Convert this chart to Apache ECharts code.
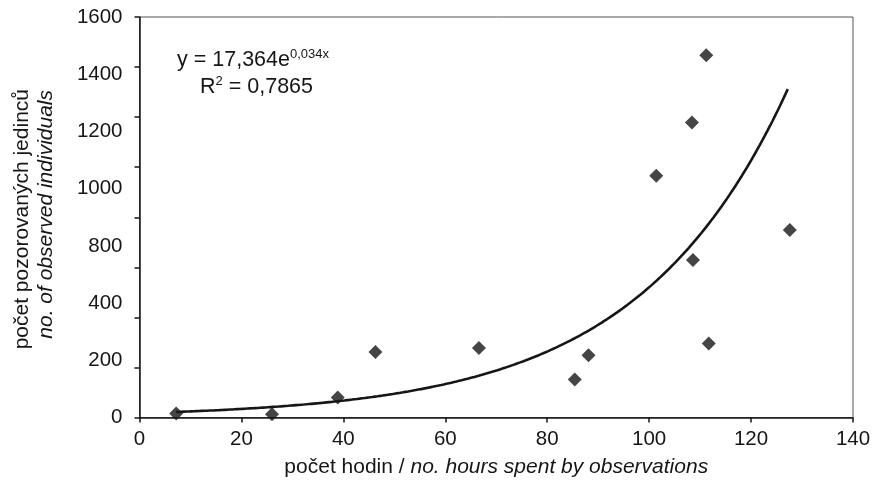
<!DOCTYPE html>
<html>
<head>
<meta charset="utf-8">
<script src="https://cdn.jsdelivr.net/npm/echarts@6/dist/echarts.min.js"></script>
<style>
  html, body { margin: 0; padding: 0; background: #ffffff; }
  #chart { width: 877px; height: 487px; }
</style>
</head>
<body>
<div id="chart"></div>
<script>
// Observation effort (hours) vs. number of observed individuals
const hours = [7.2, 26.0, 38.9, 46.3, 66.6, 85.4, 88.1, 101.4, 108.4, 111.2, 108.6, 111.7, 127.6];
const individuals = [16, 13, 80, 262, 278, 152, 249, 966, 1179, 1447, 629, 296, 749];

// Printed y tick labels (the 600 label is absent in the printed axis)
const yTickLabels = ['0', '200', '400', '800', '1000', '1200', '1400', '1600'];

// Exponential trend as printed: y = 17,364 e^(0,034x), R^2 = 0,7865
const trendA = 17.364;
const trendB = 0.034;
const trendText = 'y = 17,364e';
const trendExpText = '0,034x';
const r2Text = ' = 0,7865';

const FONT = '"Liberation Sans", Arial, Helvetica, sans-serif';
const INK = '#161616';

// trend curve evaluated along the observed hour range
const xMin = Math.min(...hours), xMax = Math.max(...hours);
const trend = [];
for (let x = xMin; x <= xMax + 1e-9; x += 0.5) {
  trend.push([x, trendA * Math.exp(trendB * x)]);
}

const chart = echarts.init(document.getElementById('chart'), null, { renderer: 'canvas' });

chart.setOption({
  animation: false,
  backgroundColor: '#ffffff',
  grid: {
    left: 139.5, right: 24, top: 17, bottom: 69.5,
    show: true, borderColor: '#555', borderWidth: 1, backgroundColor: 'transparent'
  },
  xAxis: {
    type: 'value', min: 0, max: 140, interval: 20,
    axisLine: { lineStyle: { color: INK, width: 1.5 } },
    axisTick: { show: true, length: 5, lineStyle: { color: INK, width: 1.5 } },
    axisLabel: { fontSize: 20.5, color: INK, fontFamily: FONT, margin: 11 },
    splitLine: { show: false },
    name: '{n|počet hodin / }{i|no. hours spent by observations}',
    nameLocation: 'middle',
    nameGap: 39,
    nameTextStyle: {
      rich: {
        n: { fontSize: 21, color: INK, fontFamily: FONT },
        i: { fontSize: 21, color: INK, fontFamily: FONT, fontStyle: 'italic' }
      }
    }
  },
  yAxis: [
    {
      type: 'value', min: 0, max: 1600, interval: 200,
      axisLine: { show: true, lineStyle: { color: INK, width: 1.5 } },
      axisTick: { show: true, length: 5, lineStyle: { color: INK, width: 1.5 } },
      axisLabel: { show: false },
      splitLine: { show: false }
    },
    {
      type: 'value', min: 0, max: yTickLabels.length - 1, interval: 1,
      position: 'left',
      axisLine: { show: false },
      axisTick: { show: false },
      axisLabel: {
        fontSize: 20.5, color: INK, fontFamily: FONT, margin: 17,
        formatter: v => yTickLabels[v]
      },
      splitLine: { show: false }
    }
  ],
  graphic: [
    {
      type: 'text', x: 22, y: 89, rotation: Math.PI / 2,
      style: { text: 'počet pozorovaných jedinců', font: '21px ' + FONT, fill: INK, align: 'right', verticalAlign: 'middle' }
    },
    {
      type: 'text', x: 46, y: 90, rotation: Math.PI / 2,
      style: { text: 'no. of observed individuals', font: 'italic 21px ' + FONT, fill: INK, align: 'right', verticalAlign: 'middle' }
    },
    {
      type: 'text', x: 177, y: 60,
      style: {
        text: '{a|' + trendText + '}{s|' + trendExpText + '}',
        align: 'left', verticalAlign: 'middle',
        rich: {
          a: { fontSize: 21.5, fontFamily: FONT, fill: INK, lineHeight: 24 },
          s: { fontSize: 13, fontFamily: FONT, fill: INK, verticalAlign: 'top', lineHeight: 13 }
        }
      }
    },
    {
      type: 'text', x: 200, y: 87,
      style: {
        text: '{a|R}{s|2}{a|' + r2Text + '}',
        align: 'left', verticalAlign: 'middle',
        rich: {
          a: { fontSize: 21.5, fontFamily: FONT, fill: INK, lineHeight: 24 },
          s: { fontSize: 13, fontFamily: FONT, fill: INK, verticalAlign: 'top', lineHeight: 13 }
        }
      }
    }
  ],
  series: [
    {
      type: 'line', xAxisIndex: 0, yAxisIndex: 0,
      data: trend, showSymbol: false, symbol: 'none', smooth: false,
      lineStyle: { color: INK, width: 2.6 },
      z: 2
    },
    {
      type: 'scatter', xAxisIndex: 0, yAxisIndex: 0,
      data: hours.map((h, i) => [h, individuals[i]]),
      symbol: 'diamond', symbolSize: 14,
      itemStyle: { color: INK },
      z: 3
    }
  ]
});
</script>
</body>
</html>
